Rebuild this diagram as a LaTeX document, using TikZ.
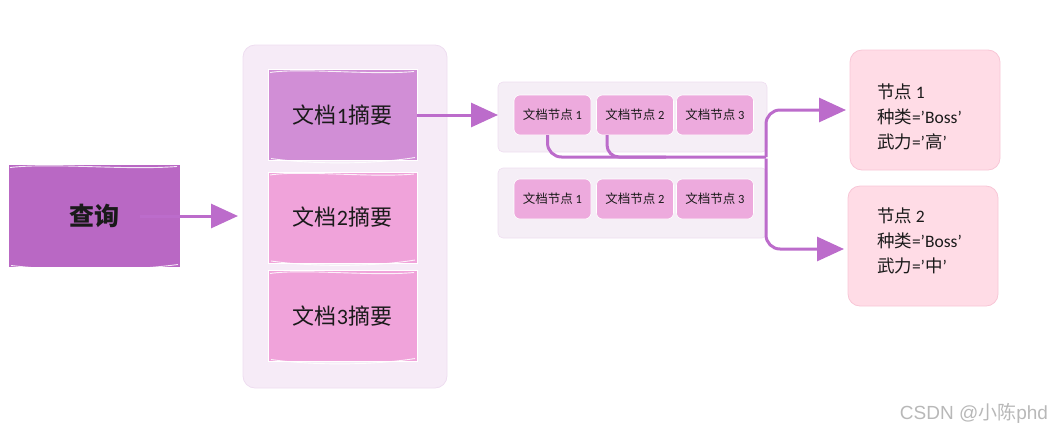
\documentclass[tikz,border=0pt]{standalone}
\usepackage{fontspec}
\setmainfont{Noto Sans CJK SC}
\newfontfamily\latin{Carlito}
\newfontfamily\arialish{Liberation Sans}
\usetikzlibrary{arrows.meta}
\definecolor{queryfill}{HTML}{B968C4}
\definecolor{docone}{HTML}{D18ED6}
\definecolor{docrest}{HTML}{F0A3DA}
\definecolor{panel}{HTML}{F6EBF7}
\definecolor{panelline}{HTML}{EEDDF0}
\definecolor{rowfill}{HTML}{F5EEF6}
\definecolor{chipfill}{HTML}{EDAADD}
\definecolor{entfill}{HTML}{FFDCE6}
\definecolor{entline}{HTML}{F8C6D6}
\definecolor{linkcol}{HTML}{BC6CCB}
\definecolor{inkcol}{HTML}{1A1A1A}
\begin{document}
\begin{tikzpicture}[x=1pt,y=-1pt,
  every node/.style={inner sep=0pt, outer sep=0pt, text=inkcol},
  sketchbox/.style={draw=white, line width=0.8pt},
  querybox/.style={sketchbox, fill=queryfill, minimum width=172pt, minimum height=103pt,
    font=\fontsize{25}{25}\selectfont\bfseries},
  docbox/.style={sketchbox, minimum width=149pt, minimum height=91pt,
    font=\fontsize{22}{22}\selectfont},
  panelbox/.style={fill=panel, draw=panelline, line width=0.8pt, rounded corners=12pt,
    minimum width=204pt, minimum height=343pt},
  rowbox/.style={fill=rowfill, draw=panelline, line width=0.6pt, rounded corners=5pt,
    minimum width=269pt, minimum height=70pt},
  chip/.style={fill=chipfill, draw=white, line width=0.6pt, rounded corners=6pt,
    minimum width=77pt, minimum height=40pt, font=\fontsize{12.5}{12.5}\selectfont},
  entity/.style={fill=entfill, draw=entline, line width=0.8pt, rounded corners=12pt,
    minimum width=150pt, minimum height=120pt},
  enttext/.style={anchor=north west, align=left, font=\fontsize{17.5}{25}\selectfont},
  link/.style={draw=linkcol, line width=3pt},
  arrowlink/.style={link, -{Triangle[length=27pt,width=24pt]}},
  gloss/.style={draw=white, line width=0.9pt, opacity=0.85}
]
\useasboundingbox (0,0) rectangle (1062,432);

% query
\node[querybox] (query) at (94,216) {查询};

% panel of document summaries
\node[panelbox] (panel) at (345,216.5) {};
\node[docbox, fill=docone]  (doc1) at (342.5,115) {文档{\latin 1}摘要};
\node[docbox, fill=docrest] (doc2) at (342.5,217.5) {文档{\latin 2}摘要};
\node[docbox, fill=docrest] (doc3) at (342.5,316) {文档{\latin 3}摘要};

% rows of document nodes
\node[rowbox] (row1) at (632.5,117) {};
\node[rowbox] (row2) at (632.5,203) {};
\node[chip] (c11) at (552.5,115) {文档节点 {\latin 1}};
\node[chip] (c12) at (635,115) {文档节点 {\latin 2}};
\node[chip] (c13) at (715,115) {文档节点 {\latin 3}};
\node[chip] (c21) at (552.5,199) {文档节点 {\latin 1}};
\node[chip] (c22) at (635,199) {文档节点 {\latin 2}};
\node[chip] (c23) at (715,199) {文档节点 {\latin 3}};

% extracted entities
\node[entity] (ent1) at (925,110) {};
\node[entity] (ent2) at (923,246) {};
\node[enttext] (ent1txt) at (877,84)
  {节点 {\latin 1}\\种类{\latin =’Boss’}\\武力{\latin =’}高{\latin ’}};
\node[enttext] (ent2txt) at (877,208)
  {节点 {\latin 2}\\种类{\latin =’Boss’}\\武力{\latin =’}中{\latin ’}};

% hand-drawn highlights on the square boxes
\foreach \b in {query,doc1,doc2,doc3}{
  \draw[gloss] ([xshift=2pt,yshift=-3pt]\b.north west) .. controls ([xshift=-40pt,yshift=2pt]\b.north) and ([xshift=30pt,yshift=-6pt]\b.north) .. ([xshift=-3pt,yshift=-2pt]\b.north east);
  \draw[gloss] ([xshift=3pt,yshift=2pt]\b.south west) .. controls ([xshift=-30pt,yshift=-4pt]\b.south) and ([xshift=30pt,yshift=-4pt]\b.south) .. ([xshift=-2pt,yshift=3pt]\b.south east);
}

% connectors
\coordinate (bend) at (766,157);
\draw[arrowlink] ([xshift=-40pt]query.east) -- ([xshift=-5pt]panel.west |- query.east);
\draw[arrowlink] (doc1.east) -- (row1.west |- doc1.east);
\draw[link, rounded corners=14pt] ([xshift=-5pt]c11.south) |- (bend);
\draw[link, rounded corners=12pt] ([xshift=-28pt]c12.south) |- ([xshift=-100pt]bend);
\draw[arrowlink, rounded corners=14pt] (bend) |- ([xshift=-4pt]ent1.west);
\draw[arrowlink, rounded corners=14pt] ([yshift=-1.5pt]bend) |- ([xshift=-4pt,yshift=-3pt]ent2.west);

% credit line
\node[text=black!28, font=\fontsize{19}{19}\selectfont] (credit) at (974,413) {{\arialish CSDN @}小陈{\arialish phd}};
\end{tikzpicture}
\end{document}
